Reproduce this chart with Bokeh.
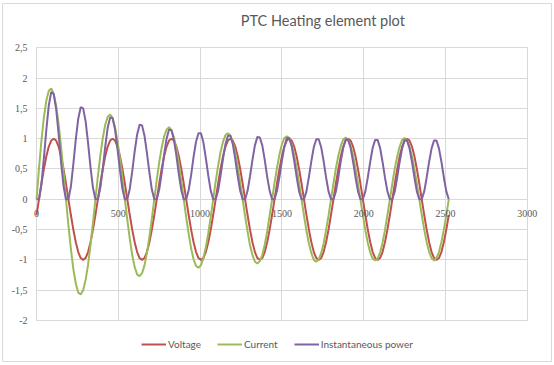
from bokeh.plotting import figure
from bokeh.models import (FixedTicker, Grid, Legend, LegendItem, LabelSet, Label,
                          ColumnDataSource)
from bokeh.embed import file_html
from bokeh.resources import INLINE

# sample positions (degrees)
angle = list(range(0, 2521, 15))

voltage = [
    -0.26, 0, 0.26, 0.5, 0.71, 0.87, 0.97, 1, 0.97, 0.87, 0.71, 0.5, 0.26, 0, -0.26, -0.5, -0.71, -0.87, -0.97, -1, -0.97, -0.87, -0.71, -0.5,
    -0.26, 0, 0.26, 0.5, 0.71, 0.87, 0.97, 1, 0.97, 0.87, 0.71, 0.5, 0.26, 0, -0.26, -0.5, -0.71, -0.87, -0.97, -1, -0.97, -0.87, -0.71, -0.5,
    -0.26, 0, 0.26, 0.5, 0.71, 0.87, 0.97, 1, 0.97, 0.87, 0.71, 0.5, 0.26, 0, -0.26, -0.5, -0.71, -0.87, -0.97, -1, -0.97, -0.87, -0.71, -0.5,
    -0.26, 0, 0.26, 0.5, 0.71, 0.87, 0.97, 1, 0.97, 0.87, 0.71, 0.5, 0.26, 0, -0.26, -0.5, -0.71, -0.87, -0.97, -1, -0.97, -0.87, -0.71, -0.5,
    -0.26, 0, 0.26, 0.5, 0.71, 0.87, 0.97, 1, 0.97, 0.87, 0.71, 0.5, 0.26, 0, -0.26, -0.5, -0.71, -0.87, -0.97, -1, -0.97, -0.87, -0.71, -0.5,
    -0.26, 0, 0.26, 0.5, 0.71, 0.87, 0.97, 1, 0.97, 0.87, 0.71, 0.5, 0.26, 0, -0.26, -0.5, -0.71, -0.87, -0.97, -1, -0.97, -0.87, -0.71, -0.5,
    -0.26, 0, 0.26, 0.5, 0.71, 0.87, 0.97, 1, 0.97, 0.87, 0.71, 0.5, 0.26, 0, -0.26, -0.5, -0.71, -0.87, -0.97, -1, -0.97, -0.87, -0.71, -0.5,
    -0.26,
]

current = [
    0, 0.51, 0.97, 1.35, 1.63, 1.79, 1.83, 1.74, 1.54, 1.24, 0.87, 0.44,
    0, -0.43, -0.82, -1.15, -1.39, -1.54, -1.57, -1.50, -1.33, -1.08, -0.75, -0.39,
    0, 0.38, 0.72, 1.01, 1.23, 1.36, 1.40, 1.34, 1.19, 0.96, 0.67, 0.35,
    0, -0.34, -0.65, -0.92, -1.12, -1.24, -1.27, -1.22, -1.09, -0.88, -0.62, -0.32,
    0, 0.32, 0.61, 0.85, 1.04, 1.15, 1.19, 1.14, 1.02, 0.83, 0.58, 0.30,
    0, -0.30, -0.57, -0.81, -0.99, -1.10, -1.13, -1.09, -0.97, -0.79, -0.56, -0.29,
    0, 0.29, 0.55, 0.78, 0.95, 1.06, 1.09, 1.05, 0.94, 0.76, 0.54, 0.28,
    0, -0.28, -0.53, -0.76, -0.92, -1.03, -1.06, -1.02, -0.92, -0.75, -0.53, -0.27,
    0, 0.27, 0.52, 0.74, 0.91, 1.01, 1.04, 1.01, 0.90, 0.73, 0.52, 0.27,
    0, -0.27, -0.52, -0.73, -0.89, -1.00, -1.03, -0.99, -0.89, -0.73, -0.51, -0.27,
    0, 0.26, 0.51, 0.72, 0.88, 0.99, 1.02, 0.98, 0.88, 0.72, 0.51, 0.26,
    0, -0.26, -0.51, -0.72, -0.88, -0.98, -1.01, -0.98, -0.88, -0.72, -0.51, -0.26,
    0, 0.26, 0.51, 0.71, 0.87, 0.98, 1.01, 0.97, 0.87, 0.71, 0.50, 0.26,
    0, -0.26, -0.50, -0.71, -0.87, -0.97, -1.01, -0.97, -0.87, -0.71, -0.50, -0.26,
    0,
]

power = [
    0, 0, 0.25, 0.68, 1.15, 1.55, 1.77, 1.74, 1.49, 1.08, 0.61, 0.22,
    0, 0, 0.21, 0.58, 0.99, 1.33, 1.52, 1.50, 1.29, 0.93, 0.53, 0.19,
    0, 0, 0.19, 0.51, 0.87, 1.18, 1.35, 1.34, 1.15, 0.83, 0.48, 0.17,
    0, 0, 0.17, 0.46, 0.79, 1.07, 1.23, 1.22, 1.05, 0.76, 0.44, 0.16,
    0, 0, 0.16, 0.43, 0.74, 1.00, 1.15, 1.14, 0.98, 0.72, 0.41, 0.15,
    0, 0, 0.15, 0.40, 0.70, 0.95, 1.09, 1.09, 0.94, 0.68, 0.39, 0.14,
    0, 0, 0.14, 0.39, 0.67, 0.91, 1.05, 1.05, 0.91, 0.66, 0.38, 0.14,
    0, 0, 0.14, 0.38, 0.65, 0.89, 1.03, 1.02, 0.89, 0.65, 0.37, 0.14,
    0, 0, 0.14, 0.37, 0.64, 0.87, 1.01, 1.01, 0.87, 0.64, 0.37, 0.13,
    0, 0, 0.13, 0.37, 0.63, 0.86, 0.99, 0.99, 0.86, 0.63, 0.36, 0.13,
    0, 0, 0.13, 0.36, 0.63, 0.85, 0.99, 0.98, 0.85, 0.62, 0.36, 0.13,
    0, 0, 0.13, 0.36, 0.62, 0.85, 0.98, 0.98, 0.85, 0.62, 0.36, 0.13,
    0, 0, 0.13, 0.36, 0.62, 0.84, 0.98, 0.97, 0.84, 0.62, 0.36, 0.13,
    0, 0, 0.13, 0.36, 0.62, 0.84, 0.97, 0.97, 0.84, 0.62, 0.36, 0.13,
    0,
]

x_ticks = [0, 500, 1000, 1500, 2000, 2500, 3000]
x_tick_labels = ["0", "500", "1000", "1500", "2000", "2500", "3000"]
y_ticks = [-2, -1.5, -1, -0.5, 0, 0.5, 1, 1.5, 2, 2.5]
y_tick_labels = ["-2", "-1,5", "-1", "-0,5", "0", "0,5", "1", "1,5", "2", "2,5"]

series_names = ["Voltage", "Current", "Instantaneous power"]
series_colors = ["#C0504D", "#9BBB59", "#8064A2"]
title_text = "PTC Heating element plot"

FONT = "Lato"
TEXT_COLOR = "#595959"
GRID_COLOR = "#d9d9d9"

# The frame covers the whole chart area (its outline is the chart border);
# the plot area (0..3000, -2..2.5) sits inside it.
p = figure(width=553, height=363, output_backend="svg", toolbar_location=None,
           x_range=(-208, 3148), y_range=(-2.677, 3.231),
           x_axis_location=None, y_axis_location=None,
           min_border_left=2, min_border_right=2, min_border_top=3, min_border_bottom=2)
p.outline_line_color = GRID_COLOR
p.background_fill_color = "white"
p.border_fill_color = "white"

has_cross = "cross_bounds" in Grid.properties()

p.xgrid.ticker = FixedTicker(ticks=x_ticks)
p.ygrid.ticker = FixedTicker(ticks=y_ticks)
for g in (p.xgrid, p.ygrid):
    g.grid_line_color = GRID_COLOR
    g.grid_line_width = 1
if has_cross:
    p.xgrid.cross_bounds = (y_ticks[0], y_ticks[-1])
    p.ygrid.cross_bounds = (x_ticks[0], x_ticks[-1])
    p.xgrid.bounds = (x_ticks[0], x_ticks[-1])
    p.ygrid.bounds = (y_ticks[0], y_ticks[-1])
else:
    p.xgrid.visible = False
    p.ygrid.visible = False
    p.segment(x0=x_ticks, x1=x_ticks, y0=[y_ticks[0]] * len(x_ticks), y1=[y_ticks[-1]] * len(x_ticks),
              line_color=GRID_COLOR, line_width=1)
    p.segment(x0=[x_ticks[0]] * len(y_ticks), x1=[x_ticks[-1]] * len(y_ticks), y0=y_ticks, y1=y_ticks,
              line_color=GRID_COLOR, line_width=1)

src = ColumnDataSource(dict(angle=angle, voltage=voltage, current=current, power=power))
renderers = []
for col, color in zip(["voltage", "current", "power"], series_colors):
    r = p.line("angle", col, source=src, line_color=color, line_width=2)
    renderers.append(r)

# horizontal-axis labels sit just under the zero line
xlab_src = ColumnDataSource(dict(x=x_ticks, y=[0] * len(x_ticks), text=x_tick_labels))
p.add_layout(LabelSet(x="x", y="y", text="text", source=xlab_src, y_offset=-14,
                      text_align="center", text_baseline="middle",
                      text_font=FONT, text_font_size="10px", text_color=TEXT_COLOR))

# vertical-axis labels left of the plot area
ylab_src = ColumnDataSource(dict(x=[x_ticks[0]] * len(y_ticks), y=y_ticks, text=y_tick_labels))
p.add_layout(LabelSet(x="x", y="y", text="text", source=ylab_src, x_offset=-9,
                      text_align="right", text_baseline="middle",
                      text_font=FONT, text_font_size="10px", text_color=TEXT_COLOR))

p.add_layout(Label(x=1750, y=2.95, text=title_text, text_align="center", text_baseline="middle",
                   text_font=FONT, text_font_size="14.5px", text_color=TEXT_COLOR))

legend = Legend(items=[LegendItem(label=n, renderers=[r]) for n, r in zip(series_names, renderers)],
                orientation="horizontal", location=(139, 11),
                glyph_width=25, glyph_height=10, label_height=10, label_standoff=2,
                spacing=16, padding=7, margin=0,
                label_text_font=FONT, label_text_font_size="10px", label_text_color=TEXT_COLOR,
                border_line_color=None, background_fill_alpha=0)
p.add_layout(legend)

open("out.html", "w").write(file_html(p, INLINE))
